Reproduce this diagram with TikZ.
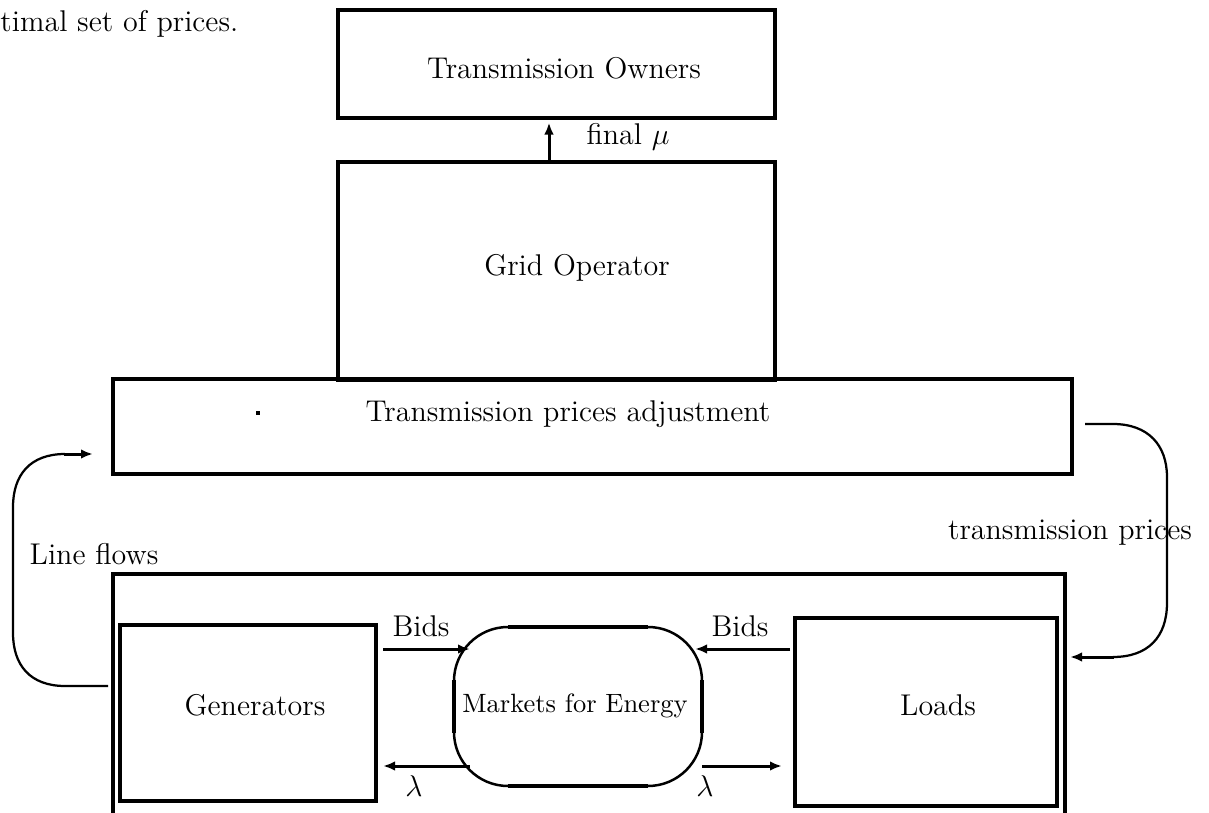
\documentclass[tikz,border=0pt]{standalone}
\usetikzlibrary{arrows.meta,fit}
\begin{document}
\begin{tikzpicture}[x=0.4pt,y=-0.4pt,
  box/.style={draw, line width=1.6pt, inner sep=0pt},
  flowarrow/.style={line width=1.2pt, -{Latex[length=4.8pt,width=3.8pt]}},
  loopline/.style={line width=0.9pt},
  lbl/.style={inner sep=0pt, font=\large}]
\useasboundingbox (0,0) rectangle (1209,813);

% leftover sentence at the top corner
\node[lbl, anchor=base west] (caption) at (0,31) {timal set of prices.};

% upper blocks
\node[box, fit={(338,10) (775,118)}] (owners) {};
\node[lbl] (ownerstext) at (564,68) {Transmission Owners};
\node[box, fit={(338,162) (775,380)}] (grid) {};
\node[lbl] (gridtext) at (577,268) {Grid Operator};
\node[box, fit={(113,379) (1072,474)}] (tpa) {};
\node[lbl] (tpatext) at (568,414) {Transmission prices adjustment};
\fill (256,411) rectangle (260,415);

% final mu arrow
\coordinate (muX) at (549,0);
\draw[flowarrow] (grid.north -| muX) -- ([yshift=-1pt]owners.south -| muX);
\node[lbl] (finalmu) at (628,137) {final $\mu$};

% market enclosure (open at the bottom)
\coordinate (encBL) at (113,813);
\coordinate (encTL) at (113,574);
\coordinate (encTR) at (1065,574);
\coordinate (encBR) at (1065,813);
\draw[line width=1.6pt] (encBL) -- (encTL) -- (encTR) -- (encBR);

% participants and market
\node[box, fit={(120,625) (376,801)}] (gen) {};
\node[lbl] (gentext) at (255,705) {Generators};
\node[box, fit={(795,618) (1057,806)}] (loads) {};
\node[lbl] (loadtext) at (938,705) {Loads};
\node[draw, line width=1pt, rounded corners=21.6pt, inner sep=0pt,
      fit={(454,627) (702,786)}] (market) {};
\node[inner sep=0pt, font=\fontsize{10.6}{13}\selectfont] (markettext) at (575,706) {Markets for Energy};
% heavier straight sides of the market outline
\draw[line width=1.6pt] (508,627) -- (648,627) (508,786) -- (648,786)
  (454,680) -- (454,733) (702,680) -- (702,733);

% bids and prices
\coordinate (bidL) at (383,649);
\coordinate (bidLend) at (470,649);
\coordinate (lamL) at (470,766);
\coordinate (lamLend) at (383,766);
\coordinate (bidR) at (790,649);
\coordinate (bidRend) at (695,649);
\coordinate (lamR) at (702,766);
\coordinate (lamRend) at (782,766);
\draw[flowarrow] (bidL) -- (bidLend);
\draw[flowarrow] (lamL) -- (lamLend);
\draw[flowarrow] (bidR) -- (bidRend);
\draw[flowarrow] (lamR) -- (lamRend);
\node[lbl] (bidsL) at (421,626) {Bids};
\node[lbl] (bidsR) at (740,626) {Bids};
\node[lbl] (lambdaL) at (414,786) {$\lambda$};
\node[lbl] (lambdaR) at (705,786) {$\lambda$};

% feedback loops
\coordinate (flowStart) at (108,686);
\coordinate (flowEnd) at (93,454);
\draw[loopline] (flowStart) -- (65,686) .. controls (30,686) and (13,665) .. (13,633)
  -- (13,507) .. controls (13,475) and (30,454) .. (65,454);
\draw[flowarrow] (64,454) -- (flowEnd);
\node[lbl] (lineflows) at (94,554) {Line flows};

\coordinate (priceStart) at (1085,424);
\coordinate (priceEnd) at (1070,657);
\draw[loopline] (priceStart) -- (1113,424) .. controls (1148,424) and (1167,445) .. (1167,477)
  -- (1167,603) .. controls (1167,637) and (1148,657) .. (1113,657);
\draw[flowarrow] (1114,657) -- (priceEnd);
\node[lbl] (tprices) at (1070,533) {transmission prices};
\end{tikzpicture}
\end{document}
